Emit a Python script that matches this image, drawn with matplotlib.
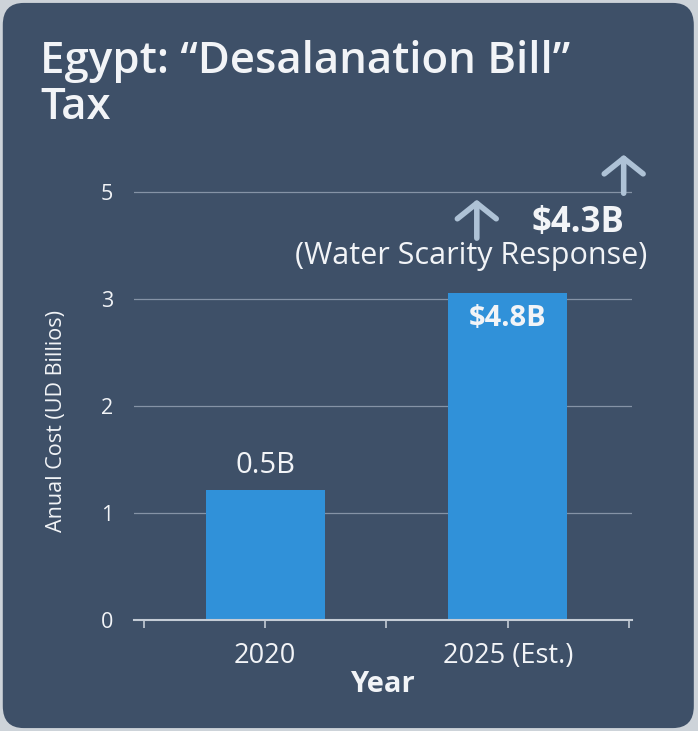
import matplotlib.pyplot as plt
from matplotlib.patches import FancyBboxPatch

# data
years = ["2020", "2025 (Est.)"]
cost = [1.215, 3.056]
bar_labels = ["0.5B", "$4.8B"]
ytick_pos = [0, 1, 2, 3, 4]
ytick_labels = ["0", "1", "2", "3", "5"]
title_lines = ["Egypt: \u201cDesalanation Bill\u201d", "Tax"]

BG = "#3e5068"
BAR = "#3091d9"
TXT = "#f2f4f7"
ARROW = "#aec2d6"

plt.rcParams["font.family"] = ["Open Sans", "DejaVu Sans"]

W, H = 698, 731
fig = plt.figure(figsize=(W / 100, H / 100), dpi=100, facecolor="#cdd3d9")
card = FancyBboxPatch((0.004, 0.004), 0.99, 0.992, boxstyle="round,pad=0,rounding_size=0.03",
                      transform=fig.transFigure, facecolor=BG, edgecolor="none", zorder=-10)
fig.patches.append(card)

ax = fig.add_axes([0.192, 0.152, 0.713, 0.629])
ax.set_facecolor("none")

x = [0, 1]
ax.bar(x, cost, width=0.49, color=BAR, zorder=3)

ax.set_xlim(-0.54, 1.51)
ax.set_ylim(0, 4.3)
ax.set_yticks(ytick_pos)
ax.set_yticklabels(ytick_labels)
ax.set_xticks([-0.5, 0, 0.5, 1, 1.5])
ax.set_xticklabels(["", years[0], "", years[1], ""])
ax.tick_params(axis="y", length=0, pad=15, labelsize=15.5, labelcolor=TXT)
ax.tick_params(axis="x", length=6, width=1.2, color="#c4ccd6", pad=10, labelsize=19.5, labelcolor=TXT)
ax.grid(axis="y", color="#8593a6", linewidth=0.9, zorder=1)
for s in ["top", "right", "left"]:
    ax.spines[s].set_visible(False)
ax.spines["bottom"].set_color("#c4ccd6")
ax.spines["bottom"].set_linewidth(1.5)
ax.spines["bottom"].set_zorder(4)

ax.set_xlabel("Year", fontsize=21, fontweight="bold", color=TXT, labelpad=0)
ax.set_ylabel("Anual Cost (UD Billios)", fontsize=15.5, color=TXT)
ax.yaxis.set_label_coords(-0.135, 0.433)

# bar value labels
ax.text(x[0], 1.374, bar_labels[0], ha="center", va="baseline", fontsize=21, color=TXT)
ax.text(x[1], 2.75, bar_labels[1], ha="center", va="baseline", fontsize=21,
        fontweight="bold", color=TXT, zorder=5)

# annotation
ax.text(1.29, 3.626, "$4.3B", ha="center", va="baseline", fontsize=25, fontweight="bold", color=TXT)
ax.text(0.85, 3.33, "(Water Scarity Response)", ha="center", va="baseline", fontsize=22, color=TXT)
arrow_kw = dict(arrowstyle="->,head_length=0.4,head_width=0.5", lw=4, color=ARROW,
                mutation_scale=28, shrinkA=0, shrinkB=0)
ax.annotate("", xy=(0.872, 3.93), xytext=(0.872, 3.57), arrowprops=arrow_kw, annotation_clip=False)
ax.annotate("", xy=(1.477, 4.35), xytext=(1.477, 3.99), arrowprops=arrow_kw, annotation_clip=False)

fig.text(40 / W, 1 - 73 / H, title_lines[0], ha="left", va="baseline",
         fontsize=31.5, fontweight="semibold", color=TXT)
fig.text(40 / W, 1 - 119 / H, title_lines[1], ha="left", va="baseline",
         fontsize=31.5, fontweight="semibold", color=TXT)

fig.savefig("out.png", dpi=100, facecolor=fig.get_facecolor())
